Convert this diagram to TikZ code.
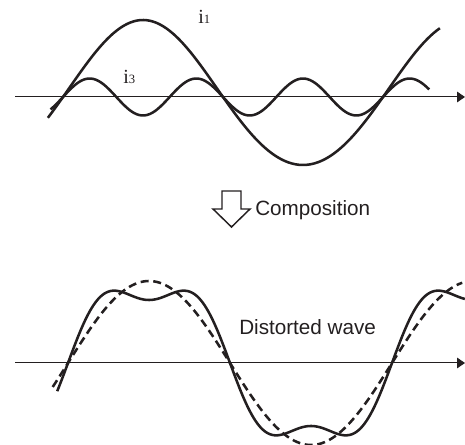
\documentclass[tikz,border=0pt]{standalone}
\usepackage{fontspec}
\setmainfont{Liberation Serif}
\setsansfont{Liberation Sans}
\usetikzlibrary{arrows.meta,positioning}
\definecolor{ink}{RGB}{35,31,32}

\begin{document}
\begin{tikzpicture}[
  x=0.75pt, y=-0.75pt,
  wave/.style={draw=ink, line width=1.9pt, line join=round},
  fund/.style={wave, dash pattern=on 6pt off 3.5pt},
  axis/.style={draw=ink, line width=0.75pt, -{Triangle[length=6pt, width=8pt]}},
  curname/.style={text=ink, inner sep=0pt, anchor=base west, font=\fontsize{15}{15}\selectfont},
  caption/.style={text=ink, inner sep=0pt, anchor=base west, font=\sffamily\fontsize{15.5}{18}\selectfont},
  hollow/.style={draw=ink, line width=1.1pt, line join=miter}
]
\useasboundingbox (0,0) rectangle (465,445);

% upper graph: i1 and i3
\coordinate (top0) at (15,97);
\coordinate (top1) at (465,97);
\draw[axis] (top0) -- (top1);
\draw[wave] plot[domain=-17:424, samples=120, smooth] ({63+\x*0.88889}, {97-72.5*sin(\x)-4.5*sin(\x)*sin(\x)});
\draw[wave] plot[domain=-14:412, samples=150, smooth] ({63+\x*0.88889}, {97-18.5*sin(3*\x)});
\node[curname] (i1) at (198,24) {i{\fontsize{9.5}{10}\selectfont 1}};
\node[curname] (i3) at (123,84) {i{\fontsize{9.5}{10}\selectfont 3}};

% composition arrow
\draw[hollow] (222,191) -- (222,209) -- (213,209) -- (231.5,227) -- (250,209) -- (241,209) -- (241,191) -- cycle;
\node[caption] (comp) at (255,216) {Composition};

% lower graph: distorted wave
\coordinate (bot0) at (15,363);
\coordinate (bot1) at (465,363);
\draw[axis] (bot0) -- (bot1);
\draw[fund] plot[domain=-17:438, samples=150, smooth] ({68+\x*0.9}, {363-82*sin(\x)});
\draw[wave] plot[domain=-12:441, samples=200, smooth] ({68+\x*0.9}, {363-82*sin(\x)-19*sin(3*\x)});
\node[caption] (dist) at (239,335) {Distorted wave};
\end{tikzpicture}
\end{document}
